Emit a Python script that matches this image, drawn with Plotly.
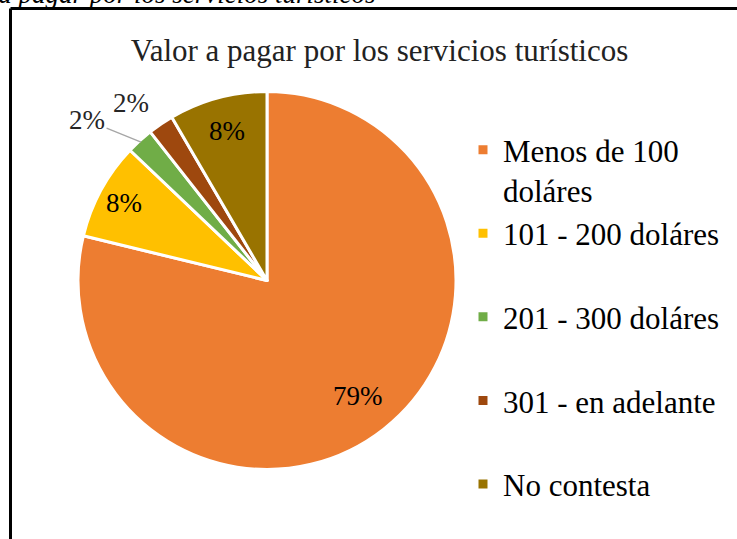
import math
import plotly.graph_objects as go

# Data
categories = ["Menos de 100<br>doláres", "101 - 200 doláres<br> ", "201 - 300 doláres<br> ",
              "301 - en adelante<br> ", "No contesta"]
values = [78.8, 8.3, 2.3, 2.2, 8.4]
pct_labels = ["79%", "8%", "2%", "2%", "8%"]
colors = ["#ED7D31", "#FFC000", "#70AD47", "#9E480E", "#997300"]

title_text = "Valor a pagar por los servicios turísticos"
caption_text = "Valor a pagar por los servicios turísticos"

W, H = 737, 539
FONT = "Liberation Serif"

# pie geometry (pixels)
CX, CY, R = 267, 280.5, 189

fig = go.Figure()
fig.add_trace(go.Pie(
    labels=categories,
    values=values,
    textinfo="none",
    sort=False,
    direction="clockwise",
    rotation=0,
    marker=dict(colors=colors, line=dict(color="white", width=3)),
    hoverinfo="label+percent",
    domain=dict(x=[(CX - R) / W, (CX + R) / W], y=[1 - (CY + R) / H, 1 - (CY - R) / H]),
))

# label placement computed from slice mid-angles
total = sum(values)
cum = 0
mids = []
for v in values:
    mids.append((cum + v / 2) / total * 2 * math.pi)
    cum += v


def pt(angle, rad):
    return CX + rad * math.sin(angle), CY - rad * math.cos(angle)


annotations = []
# inside labels (radial fraction of the radius)
for i, frac in [(0, 0.78), (1, 0.86), (4, 0.82)]:
    lx, ly = pt(mids[i], frac * R)
    annotations.append(dict(text=pct_labels[i], xref="paper", yref="paper", x=lx / W, y=1 - ly / H,
                            xanchor="center", yanchor="middle", showarrow=False,
                            font=dict(family=FONT, size=27, color="black")))
# small slice with leader line
tx, ty = pt(mids[2], 0.99 * R)
annotations.append(dict(text=pct_labels[2], xref="paper", yref="paper", x=tx / W, y=1 - ty / H,
                        ax=-54, ay=-22, showarrow=True, arrowhead=0, arrowwidth=1.3,
                        arrowcolor="#A6A6A6", standoff=0,
                        font=dict(family=FONT, size=27, color="#262626")))
# small slice, label just outside
bx, by = pt(mids[3], 1.0 * R)
annotations.append(dict(text=pct_labels[3], xref="paper", yref="paper", x=(bx - 30) / W, y=1 - (by - 21) / H,
                        xanchor="center", yanchor="middle", showarrow=False,
                        font=dict(family=FONT, size=27, color="#262626")))
# cropped caption above the chart frame
annotations.append(dict(text="<i>" + caption_text + "</i>", xref="paper", yref="paper",
                        x=378 / W, xanchor="right", y=1 + 6 / H, yanchor="middle", showarrow=False,
                        font=dict(family=FONT, size=27, color="black")))

fig.update_layout(
    width=W, height=H,
    margin=dict(l=0, r=0, t=0, b=0),
    paper_bgcolor="white",
    plot_bgcolor="white",
    font=dict(family=FONT, color="black"),
    title=dict(text=title_text, x=379.5 / W, xanchor="center", y=1 - 50 / H, yanchor="middle",
               font=dict(family=FONT, size=31, color="#222222")),
    showlegend=True,
    legend=dict(x=463 / W, xanchor="left", y=1 - 123 / H, yanchor="top",
                valign="top", font=dict(family=FONT, size=31, color="black"),
                bgcolor="rgba(0,0,0,0)", traceorder="normal"),
    shapes=[
        dict(type="line", xref="paper", yref="paper", x0=10.5 / W, x1=1.01, y0=1 - 8.5 / H, y1=1 - 8.5 / H,
             line=dict(color="black", width=3)),
        dict(type="line", xref="paper", yref="paper", x0=10.5 / W, x1=10.5 / W, y0=1 - 8.5 / H, y1=-0.01,
             line=dict(color="black", width=3)),
    ],
    annotations=annotations,
)

fig.write_html("out.html", config={"displayModeBar": False},
               post_script="document.body.style.margin='0';document.body.style.padding='0';")
